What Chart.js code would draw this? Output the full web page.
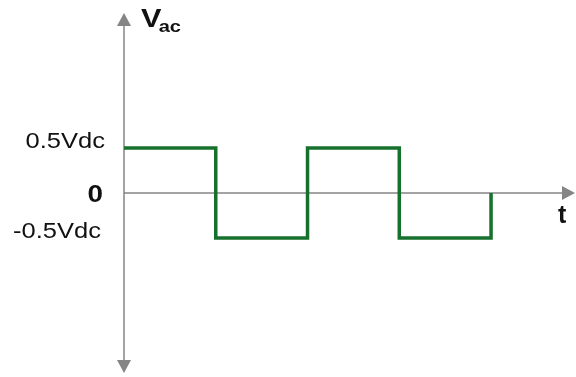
<!DOCTYPE html>
<html lang="en">
  <head>
    <meta charset="UTF-8" />
    <title>Square wave Vac</title>
    <style>
      body {
        margin: 0;
        background: #fff;
        font-family: Arial, "Liberation Sans", sans-serif;
      }
      canvas {
        display: block;
      }
    </style>
  </head>
  <body>
    <canvas id="waveChart" width="576" height="377"></canvas>
    <script src="https://cdn.jsdelivr.net/npm/chart.js"></script>
    <script>
      // square wave corners (time in half periods, voltage in Vdc)
      const time = [0, 1, 1, 2, 2, 3, 3, 4, 4];
      const vac = [0.5, 0.5, -0.5, -0.5, 0.5, 0.5, -0.5, -0.5, 0];

      const tickValues = [0.5, 0, -0.5];
      const tickLabels = ["0.5Vdc", "0", "-0.5Vdc"];

      const axisColor = "#858585";

      // draws the arrowed axes and the hand-placed labels
      const axesPlugin = {
        id: "arrowAxes",
        beforeDatasetsDraw(chart) {
          const { ctx, chartArea: a, scales } = chart;
          const x0 = scales.x.getPixelForValue(0);
          const y0 = scales.y.getPixelForValue(0);
          ctx.save();
          ctx.strokeStyle = axisColor;
          ctx.fillStyle = axisColor;
          ctx.lineWidth = 1.5;
          ctx.beginPath();
          ctx.moveTo(x0, a.top + 8);
          ctx.lineTo(x0, a.bottom - 8);
          ctx.moveTo(x0, y0);
          ctx.lineTo(a.right - 8, y0);
          ctx.stroke();
          // arrow heads
          const head = (tx, ty, dx, dy) => {
            const len = 13, half = 7;
            const bx = tx - dx * len, by = ty - dy * len;
            ctx.beginPath();
            ctx.moveTo(tx, ty);
            ctx.lineTo(bx - dy * half, by + dx * half);
            ctx.lineTo(bx + dy * half, by - dx * half);
            ctx.closePath();
            ctx.fill();
          };
          head(x0, a.top, 0, -1);
          head(x0, a.bottom, 0, 1);
          head(a.right, y0, 1, 0);
          ctx.restore();
        },
        afterDraw(chart) {
          const { ctx, chartArea: a, scales } = chart;
          const x0 = scales.x.getPixelForValue(0);
          ctx.save();
          ctx.fillStyle = "#111";
          ctx.textAlign = "right";
          tickValues.forEach((v, i) => {
            const y = scales.y.getPixelForValue(v);
            ctx.save();
            if (v === 0) {
              ctx.font = "bold 24px Arial, 'Liberation Sans'";
              ctx.textBaseline = "middle";
              ctx.translate(x0 - 21, y + 2);
            } else {
              ctx.font = "22px Arial, 'Liberation Sans'";
              ctx.textBaseline = "alphabetic";
              ctx.translate(v > 0 ? x0 - 19 : x0 - 23, y);
            }
            ctx.scale(1.16, 1);
            ctx.fillText(tickLabels[i], 0, 0);
            ctx.restore();
          });
          // axis titles
          ctx.textAlign = "left";
          ctx.textBaseline = "alphabetic";
          ctx.save();
          ctx.translate(x0 + 17, 27);
          ctx.scale(1.18, 1);
          ctx.font = "bold 26px Arial, 'Liberation Sans'";
          ctx.fillText("V", 0, 0);
          ctx.font = "bold 17px Arial, 'Liberation Sans'";
          ctx.fillText("ac", 15, 5);
          ctx.restore();
          ctx.font = "bold 25px Arial, 'Liberation Sans'";
          ctx.fillText("t", a.right - 17, 223);
          ctx.restore();
        },
      };

      new Chart(document.getElementById("waveChart"), {
        type: "line",
        data: {
          datasets: [
            {
              data: time.map((t, i) => ({ x: t, y: vac[i] })),
              borderColor: "#16712c",
              borderWidth: 3.5,
              pointRadius: 0,
              tension: 0,
              fill: false,
              clip: false,
              borderJoinStyle: "miter",
            },
          ],
        },
        options: {
          responsive: false,
          animation: false,
          layout: { padding: { left: 124, top: 13, right: 1, bottom: 4 } },
          plugins: { legend: { display: false }, tooltip: { enabled: false } },
          scales: {
            x: { type: "linear", min: 0, max: 4.915, display: false },
            y: { type: "linear", min: -2, max: 2, display: false },
          },
        },
        plugins: [axesPlugin],
      });
    </script>
  </body>
</html>
